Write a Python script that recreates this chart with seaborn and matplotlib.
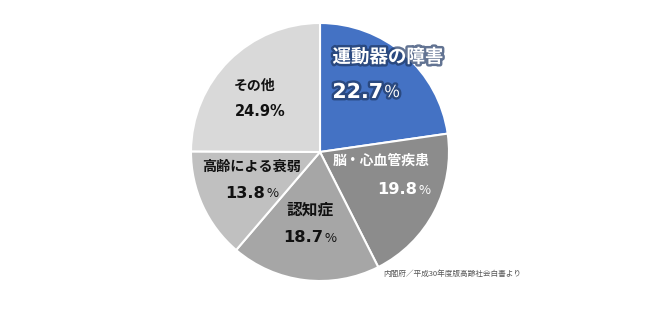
import matplotlib
matplotlib.use("Agg")
import matplotlib.pyplot as plt
import matplotlib.patheffects as pe
import seaborn as sns

categories = ["運動器の障害", "脳・心血管疾患", "認知症", "高齢による衰弱", "その他"]
values = [22.7, 19.8, 18.7, 13.8, 24.9]
value_labels = ["22.7", "19.8", "18.7", "13.8", "24.9"]
source_text = "内閣府／平成30年度版高齢社会白書より"

colors = ["#4472C4", "#8C8C8C", "#A6A6A6", "#C0C0C0", "#D9D9D9"]
text_colors = ["white", "white", "#111111", "#111111", "#111111"]

sns.set_theme(style="white")
fam = ["Noto Sans CJK JP", "DejaVu Sans"]
numfam = ["DejaVu Sans"]
plt.rcParams["font.family"] = fam

W, H = 650, 309
fig = plt.figure(figsize=(6.5, 3.09), dpi=100)
fig.patch.set_facecolor("white")
cx, cy, r = 320, 152, 129
ax = fig.add_axes([(cx - r) / W, (H - cy - r) / H, 2 * r / W, 2 * r / H])
ax.pie(values, colors=colors, startangle=90, counterclock=False,
       wedgeprops=dict(edgecolor="white", linewidth=1.5), radius=1.0)
ax.set_xlim(-1, 1)
ax.set_ylim(-1, 1)
ax.set_aspect("equal")
ax.axis("off")

def fx(x):
    return x / W

def fy(y):
    return 1 - y / H

# label layout (pixel positions): name center x, name y, name size, number right x, number y, number size
layout = [
    (388, 57, 13.3, 383, 92, 14.8),
    (381, 161, 10.0, 417, 190, 11.7),
    (310, 210, 11.3, 323, 238, 11.7),
    (252, 167, 10.2, 265, 193, 11.7),
    (255, 86, 10.0, 235, 112, 10.5),
]
glow = [pe.withStroke(linewidth=3.5, foreground="#1F3864", alpha=0.7)]
for i, (name, num) in enumerate(zip(categories, value_labels)):
    nx, ny, ns, sx, sy, vs = layout[i]
    c = text_colors[i]
    eff = glow if i == 0 else None
    fig.text(fx(nx), fy(ny), name, ha="center", va="center", fontsize=ns,
             fontweight="bold", color=c, family=fam, path_effects=eff)
    if i == 4:
        fig.text(fx(sx), fy(sy), num + "%", ha="left", va="center", fontsize=vs,
                 fontweight="bold", color=c, family=numfam)
    else:
        fig.text(fx(sx), fy(sy), num, ha="right", va="center", fontsize=vs,
                 fontweight="bold", color=c, family=numfam, path_effects=eff)
        fig.text(fx(sx + 1.5), fy(sy + 0.5), "%", ha="left", va="center", fontsize=vs * 0.8,
                 fontweight="normal", color=c, family=fam, path_effects=eff)

fig.text(fx(383), fy(274), source_text, ha="left", va="center", fontsize=5.5,
         color="#555555", family=fam)

fig.savefig("out.png", dpi=100, facecolor="white")
